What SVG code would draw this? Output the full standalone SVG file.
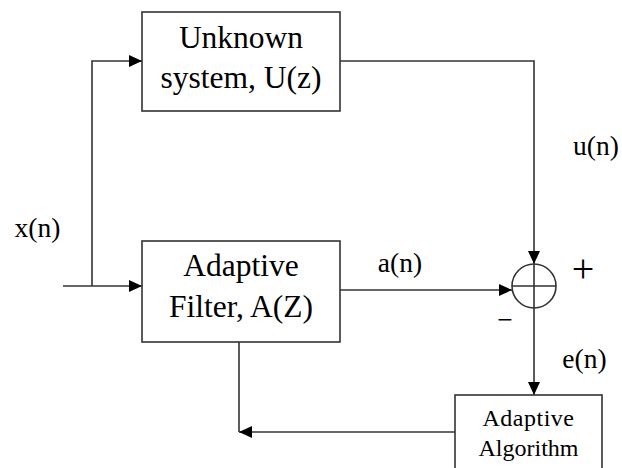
<svg xmlns="http://www.w3.org/2000/svg" width="622" height="468" viewBox="0 0 622 468">
<style>
.box{fill:#fff;stroke:#333;stroke-width:1.6}
.ln{fill:none;stroke:#333;stroke-width:1.6}
.t{font-family:"Liberation Serif","Times New Roman","DejaVu Serif",serif;fill:#000;text-anchor:middle}
.big{font-size:31.5px}
.lbl{font-size:27.5px}
.sm{font-size:24px}
</style>
<defs>
<marker id="arr" markerUnits="userSpaceOnUse" markerWidth="14" markerHeight="12" refX="13" refY="6" orient="auto">
<path d="M0,0 L13,6 L0,12 z" fill="#000"/>
</marker>
</defs>
<rect width="622" height="468" fill="#fff"/>
<g id="connectors">
<path class="ln" d="M63,286 H142" marker-end="url(#arr)"/>
<path class="ln" d="M92,286 V61 H142" marker-end="url(#arr)"/>
<path class="ln" d="M340,61 H534 V264" marker-end="url(#arr)"/>
<path class="ln" d="M340,290 H512" marker-end="url(#arr)"/>
<path class="ln" d="M534,308 V395" marker-end="url(#arr)"/>
<path class="ln" d="M239,342 V432"/>
<path class="ln" d="M455,432 H239" marker-end="url(#arr)"/>
</g>
<g id="unknown">
<rect class="box" x="142" y="12" width="198" height="99"/>
<text class="t big" x="241" y="48">Unknown</text>
<text class="t big" x="241" y="88">system, U(z)</text>
</g>
<g id="filter">
<rect class="box" x="142" y="241" width="198" height="101"/>
<text class="t big" x="241" y="276">Adaptive</text>
<text class="t big" x="241" y="317">Filter, A(Z)</text>
</g>
<g id="sum">
<circle cx="534" cy="286" r="22" fill="#fff" stroke="#333" stroke-width="1.6"/>
<path class="ln" d="M512,286 H556 M534,264 V308"/>
</g>
<g id="algorithm">
<rect class="box" x="455" y="395" width="147" height="80"/>
<text class="t sm" x="528.5" y="426" letter-spacing="0.5">Adaptive</text>
<text class="t sm" x="528.5" y="456">Algorithm</text>
</g>
<g id="labels">
<text class="t lbl" x="37.5" y="237">x(n)</text>
<text class="t lbl" x="400" y="272">a(n)</text>
<text class="t lbl" x="596" y="155">u(n)</text>
<text class="t" style="font-size:40px" x="583" y="282">+</text>
<text class="t lbl" x="505" y="329">−</text>
<text class="t lbl" x="584.5" y="368">e(n)</text>
</g>
</svg>
